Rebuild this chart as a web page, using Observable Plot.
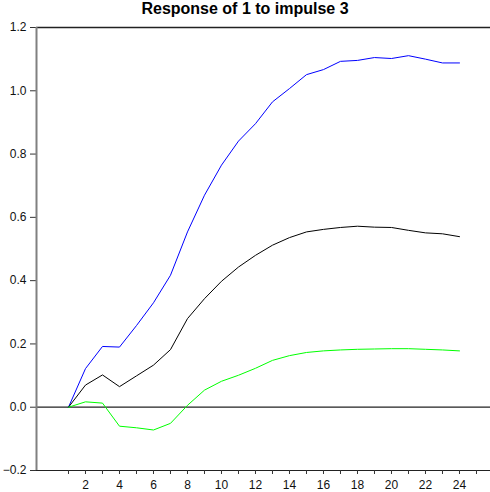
<!DOCTYPE html>
<html>
<head>
<meta charset="utf-8">
<script src="https://cdn.jsdelivr.net/npm/d3@7"></script>
<script src="https://cdn.jsdelivr.net/npm/@observablehq/plot@0.6"></script>
<style>
  body { margin: 0; background: #fff; }
  #wrap { position: relative; width: 490px; height: 492px; }
  #title { position: absolute; left: 0; top: 0; width: 490px; height: 26px; line-height: 26px; text-align: center; font: bold 16px "Liberation Sans", Arial, sans-serif; color: #000; z-index: 2; }
  #chart { position: absolute; left: 0; top: 0; }
</style>
</head>
<body>
<div id="wrap">
  <div id="chart"></div>
  <div id="title">Response of 1 to impulse 3</div>
</div>
<script>
const periods = d3.range(1, 25);
const upper = [0, 0.122, 0.192, 0.190, 0.258, 0.330, 0.417, 0.554, 0.670, 0.765, 0.841, 0.896, 0.965, 1.007, 1.051, 1.067, 1.093, 1.096, 1.105, 1.102, 1.111, 1.100, 1.088, 1.088];
const response = [0, 0.070, 0.102, 0.065, 0.099, 0.133, 0.182, 0.280, 0.343, 0.398, 0.443, 0.480, 0.512, 0.536, 0.554, 0.562, 0.568, 0.572, 0.569, 0.568, 0.559, 0.551, 0.548, 0.539];
const lower = [0, 0.017, 0.013, -0.060, -0.065, -0.072, -0.051, 0.006, 0.054, 0.082, 0.101, 0.123, 0.148, 0.163, 0.173, 0.178, 0.181, 0.183, 0.184, 0.185, 0.185, 0.183, 0.181, 0.178];
const yTicks = [-0.2, 0, 0.2, 0.4, 0.6, 0.8, 1.0, 1.2];
const xTicks = d3.range(1, 26);

const series = [
  {name: "upper", values: upper, color: "#0000ff"},
  {name: "response", values: response, color: "#000000"},
  {name: "lower", values: lower, color: "#00ff00"}
];
const rows = series.flatMap(s => s.values.map((v, i) => ({period: periods[i], value: v, name: s.name})));

const xMin = -0.882, xMax = 25.824;

const chart = Plot.plot({
  width: 490,
  height: 492,
  marginTop: 27,
  marginBottom: 22,
  marginLeft: 36,
  marginRight: 0,
  style: {fontFamily: "'Liberation Sans', Arial, sans-serif", fontSize: "12px", background: "#fff", color: "#111"},
  x: {domain: [xMin, xMax]},
  y: {domain: [-0.2, 1.2]},
  color: {domain: series.map(s => s.name), range: series.map(s => s.color)},
  marks: [
    Plot.ruleY([0], {stroke: "#222", strokeWidth: 1.2}),
    Plot.ruleY([1.2], {stroke: "#222", strokeWidth: 1.5}),
    Plot.ruleY([-0.2], {stroke: "#222", strokeWidth: 1.2}),
    Plot.line(rows, {x: "period", y: "value", z: "name", stroke: "name", strokeWidth: 1}),
    Plot.axisY({ticks: yTicks, tickFormat: d3.format(".1f"), tickSize: 6, tickPadding: 4, stroke: "#333", label: null, fill: "#111"}),
    Plot.axisX({ticks: xTicks, tickFormat: d => (d % 2 === 0 && d <= 24) ? String(d) : "", tickSize: 4, tickPadding: 6, stroke: "#333", label: null, fill: "#111"}),
    Plot.ruleX([xMin], {stroke: "#808080", strokeWidth: 2})
  ]
});
document.getElementById("chart").appendChild(chart);
</script>
</body>
</html>
